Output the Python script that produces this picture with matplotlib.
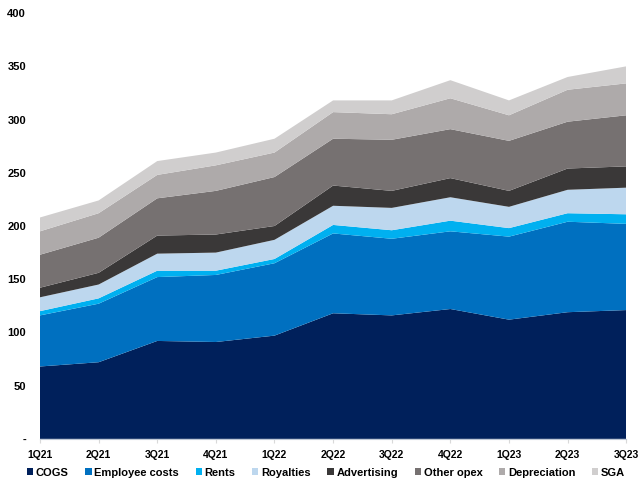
import numpy as np
import matplotlib.pyplot as plt
from matplotlib.ticker import FuncFormatter

# dados (estimados a partir do gráfico)
trimestres = ['1Q21', '2Q21', '3Q21', '4Q21', '1Q22', '2Q22', '3Q22', '4Q22', '1Q23', '2Q23', '3Q23']

cogs = [68, 72, 92, 91, 97, 118, 116, 122, 112, 119, 121]
employee_costs = [48, 55, 60, 63, 68, 75, 72, 73, 78, 85, 81]
rents = [4, 5, 6, 4, 4, 8, 8, 10, 8, 8, 9]
royalties = [13, 13, 16, 17, 18, 18, 21, 22, 20, 22, 25]
advertising = [9, 11, 17, 17, 13, 19, 16, 18, 15, 20, 20]
other_opex = [31, 33, 35, 41, 46, 44, 48, 46, 47, 44, 48]
depreciation = [22, 23, 22, 24, 23, 25, 24, 29, 24, 30, 30]
sga = [13, 12, 13, 12, 13, 11, 13, 17, 14, 12, 16]

nomes = ['COGS', 'Employee costs', 'Rents', 'Royalties', 'Advertising',
         'Other opex', 'Depreciation', 'SGA']
cores = ['#00205B', '#0070C0', '#00B0F0', '#BDD7EE', '#3A3838',
         '#767171', '#AEAAAA', '#D0CECE']

plt.rcParams['font.family'] = ['Liberation Sans', 'DejaVu Sans']
plt.rcParams['font.weight'] = 'bold'

fig = plt.figure(figsize=(6.4, 4.86), dpi=100)
ax = fig.add_axes([0.0625, 0.097, 0.916, 0.876])

x = np.arange(len(trimestres))
series = [cogs, employee_costs, rents, royalties, advertising, other_opex, depreciation, sga]
ax.stackplot(x, *series, colors=cores, labels=nomes, linewidth=0)

ax.set_xlim(0, len(trimestres) - 1)
ax.set_ylim(0, 400)
ax.set_yticks(range(0, 401, 50))
ax.yaxis.set_major_formatter(FuncFormatter(lambda v, p: '-' if v == 0 else f'{int(v)}'))
ax.set_xticks(x)
ax.set_xticklabels(trimestres)

for lado in ['left', 'right', 'top']:
    ax.spines[lado].set_visible(False)
ax.spines['bottom'].set_color('#BFC8D6')
ax.tick_params(axis='y', length=0, labelsize=8, pad=10)
ax.tick_params(axis='x', length=3, color='#D9D9D9', labelsize=7.5, pad=5)

ax.legend(loc='upper center', bbox_to_anchor=(0.488, -0.057), ncol=8, frameon=False,
          fontsize=8, handlelength=0.55, handleheight=0.55, handletextpad=0.25,
          columnspacing=1.5, borderaxespad=0)

plt.savefig('out.png', dpi=100)
